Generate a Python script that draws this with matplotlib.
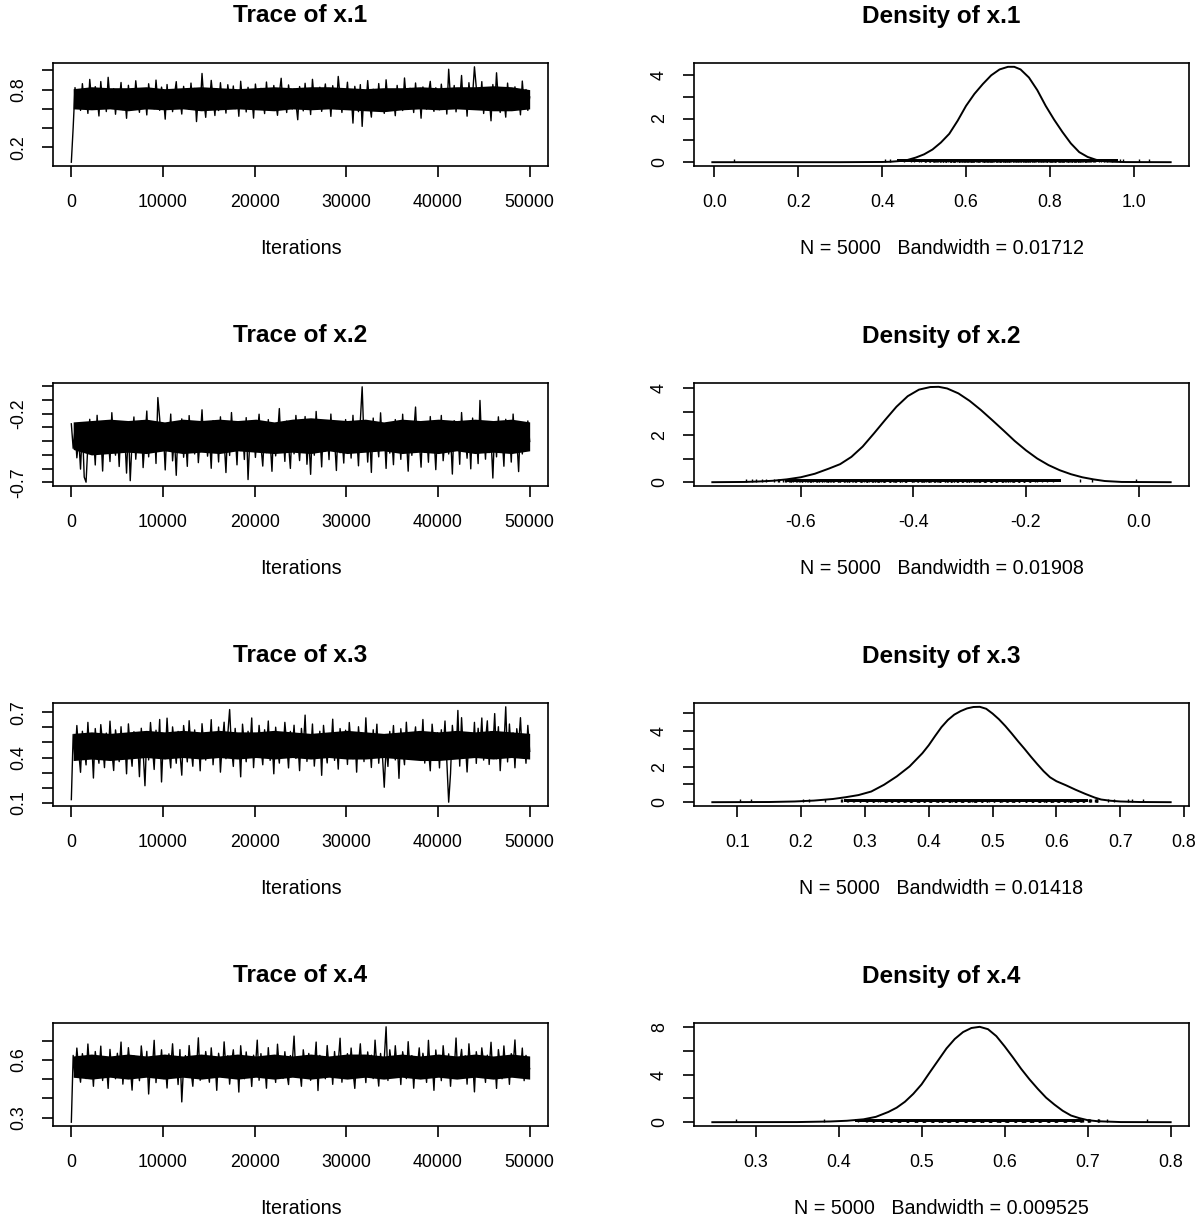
import matplotlib
matplotlib.use("Agg")
import matplotlib.pyplot as plt
import numpy as np

plt.rcParams['font.family'] = ['Liberation Sans', 'DejaVu Sans']

# ---- data -------------------------------------------------------------
names = ["x.1", "x.2", "x.3", "x.4"]
n_samples = 5000
n_iter = 50000
bandwidths = ["0.01712", "0.01908", "0.01418", "0.009525"]

# thinned chain values
x1_chain = [
    0.046, 0.407, 0.821, 0.633, 0.778, 0.584, 0.862, 0.659, 0.741, 0.553, 0.906, 0.692, 0.604, 0.831, 0.718, 0.526, 0.884, 0.651, 0.797, 0.572, 0.928, 0.703, 0.615, 0.809, 0.544,
    0.763, 0.681, 0.874, 0.592, 0.736, 0.502, 0.845, 0.658, 0.781, 0.613, 0.892, 0.707, 0.564, 0.803, 0.646, 0.752, 0.537, 0.861, 0.694, 0.773, 0.601, 0.899, 0.672, 0.585, 0.826,
    0.719, 0.493, 0.853, 0.628, 0.794, 0.571, 0.742, 0.883, 0.617, 0.705, 0.546, 0.834, 0.682, 0.757, 0.596, 0.868, 0.649, 0.812, 0.468, 0.731, 0.614, 0.968, 0.687, 0.512, 0.779,
    0.643, 0.896, 0.714, 0.531, 0.805, 0.583, 0.872, 0.662, 0.748, 0.556, 0.851, 0.697, 0.624, 0.838, 0.602, 0.771, 0.523, 0.887, 0.673, 0.792, 0.568, 0.824, 0.637, 0.745, 0.504,
    0.858, 0.691, 0.595, 0.813, 0.724, 0.551, 0.879, 0.654, 0.786, 0.609, 0.843, 0.676, 0.533, 0.762, 0.918, 0.631, 0.737, 0.562, 0.849, 0.702, 0.598, 0.807, 0.664, 0.487, 0.832,
    0.744, 0.579, 0.866, 0.642, 0.791, 0.541, 0.907, 0.684, 0.753, 0.618, 0.825, 0.574, 0.713, 0.859, 0.652, 0.768, 0.522, 0.841, 0.689, 0.603, 0.937, 0.728, 0.563, 0.801, 0.671,
    0.877, 0.612, 0.759, 0.452, 0.834, 0.698, 0.571, 0.852, 0.418, 0.783, 0.626, 0.894, 0.657, 0.514, 0.804, 0.722, 0.588, 0.863, 0.641, 0.749, 0.553, 0.902, 0.679, 0.607, 0.788,
    0.713, 0.529, 0.844, 0.661, 0.772, 0.583, 0.921, 0.695, 0.618, 0.814, 0.738, 0.562, 0.869, 0.644, 0.793, 0.503, 0.828, 0.701, 0.597, 0.764, 0.886, 0.653, 0.574, 0.819, 0.732,
    0.591, 0.857, 0.673, 0.784, 0.546, 1.012, 0.716, 0.628, 0.843, 0.569, 0.758, 0.684, 0.947, 0.612, 0.803, 0.524, 0.872, 0.659, 0.741, 1.037, 0.822, 0.693, 0.617, 0.883, 0.552,
    0.794, 0.648, 0.727, 0.476, 0.853, 0.604, 0.975, 0.682, 0.563, 0.811, 0.703, 0.514, 0.868, 0.632, 0.776, 0.591, 0.829, 0.667, 0.748, 0.538, 0.889, 0.642, 0.801, 0.584, 0.723,
]
x2_chain = [
    -0.274, -0.452, -0.313, -0.521, -0.384, -0.603, -0.292, -0.661, -0.698, -0.423, -0.241, -0.494, -0.352, -0.573, -0.212, -0.441, -0.334, -0.617, -0.283, -0.472, -0.369, -0.548, -0.193, -0.414, -0.502,
    -0.321, -0.584, -0.262, -0.463, -0.357, -0.632, -0.304, -0.687, -0.398, -0.224, -0.531, -0.343, -0.479, -0.253, -0.592, -0.386, -0.181, -0.514, -0.297, -0.441, -0.273, -0.562, -0.083, -0.236, -0.468,
    -0.332, -0.609, -0.284, -0.431, -0.203, -0.543, -0.371, -0.648, -0.289, -0.462, -0.238, -0.517, -0.353, -0.583, -0.214, -0.424, -0.312, -0.493, -0.262, -0.556, -0.378, -0.172, -0.451, -0.304, -0.509,
    -0.363, -0.597, -0.251, -0.482, -0.328, -0.551, -0.223, -0.437, -0.394, -0.628, -0.281, -0.504, -0.192, -0.413, -0.341, -0.572, -0.264, -0.468, -0.307, -0.533, -0.229, -0.679, -0.374, -0.452, -0.293,
    -0.518, -0.352, -0.204, -0.434, -0.581, -0.302, -0.483, -0.243, -0.401, -0.619, -0.272, -0.507, -0.361, -0.163, -0.458, -0.323, -0.547, -0.254, -0.421, -0.598, -0.287, -0.492, -0.213, -0.384, -0.541,
    -0.314, -0.453, -0.221, -0.568, -0.372, -0.641, -0.283, -0.502, -0.184, -0.413, -0.339, -0.587, -0.262, -0.471, -0.328, -0.534, -0.203, -0.442, -0.391, -0.613, -0.274, -0.484, -0.352, -0.559, -0.243,
    -0.431, -0.302, -0.523, -0.212, -0.464, -0.358, -0.579, -0.254, -0.005, -0.403, -0.291, -0.552, -0.334, -0.627, -0.232, -0.473, -0.381, -0.514, -0.194, -0.442, -0.323, -0.598, -0.271, -0.487, -0.352,
    -0.571, -0.243, -0.424, -0.313, -0.532, -0.204, -0.461, -0.372, -0.618, -0.282, -0.503, -0.341, -0.152, -0.443, -0.392, -0.589, -0.261, -0.482, -0.334, -0.553, -0.221, -0.432, -0.363, -0.607, -0.302,
    -0.474, -0.213, -0.542, -0.381, -0.273, -0.493, -0.352, -0.639, -0.251, -0.454, -0.322, -0.568, -0.192, -0.413, -0.361, -0.524, -0.284, -0.601, -0.232, -0.461, -0.343, -0.563, -0.104, -0.432, -0.311,
    -0.531, -0.262, -0.483, -0.372, -0.668, -0.293, -0.514, -0.223, -0.442, -0.354, -0.582, -0.241, -0.463, -0.321, -0.552, -0.203, -0.414, -0.383, -0.621, -0.272, -0.493, -0.334, -0.452, -0.253, -0.402,
]
x3_chain = [
    0.121, 0.553, 0.384, 0.612, 0.437, 0.302, 0.574, 0.468, 0.351, 0.633, 0.412, 0.521, 0.264, 0.592, 0.453, 0.362, 0.618, 0.494, 0.333, 0.562, 0.401, 0.641, 0.443, 0.314, 0.583,
    0.482, 0.373, 0.604, 0.421, 0.534, 0.292, 0.623, 0.461, 0.342, 0.571, 0.403, 0.512, 0.273, 0.594, 0.441, 0.213, 0.552, 0.384, 0.632, 0.473, 0.321, 0.581, 0.414, 0.652, 0.238,
    0.524, 0.393, 0.661, 0.452, 0.331, 0.603, 0.484, 0.362, 0.573, 0.434, 0.283, 0.612, 0.503, 0.371, 0.644, 0.462, 0.342, 0.583, 0.421, 0.541, 0.312, 0.624, 0.474, 0.383, 0.563,
    0.442, 0.651, 0.352, 0.534, 0.413, 0.602, 0.303, 0.491, 0.634, 0.392, 0.552, 0.718, 0.463, 0.341, 0.593, 0.432, 0.514, 0.272, 0.621, 0.483, 0.372, 0.574, 0.451, 0.662, 0.333,
    0.542, 0.404, 0.613, 0.471, 0.352, 0.584, 0.433, 0.642, 0.381, 0.523, 0.292, 0.601, 0.462, 0.363, 0.562, 0.424, 0.633, 0.492, 0.331, 0.573, 0.443, 0.614, 0.394, 0.512, 0.313,
    0.593, 0.452, 0.681, 0.374, 0.532, 0.421, 0.622, 0.343, 0.503, 0.402, 0.574, 0.282, 0.613, 0.471, 0.364, 0.553, 0.432, 0.654, 0.381, 0.522, 0.323, 0.592, 0.464, 0.413, 0.581,
    0.354, 0.632, 0.483, 0.392, 0.561, 0.303, 0.604, 0.451, 0.542, 0.373, 0.663, 0.422, 0.513, 0.334, 0.584, 0.443, 0.621, 0.362, 0.534, 0.414, 0.203, 0.472, 0.341, 0.573, 0.432,
    0.612, 0.384, 0.523, 0.262, 0.591, 0.463, 0.352, 0.634, 0.441, 0.553, 0.474, 0.492, 0.603, 0.393, 0.572, 0.421, 0.652, 0.363, 0.531, 0.454, 0.312, 0.621, 0.483, 0.402, 0.564,
    0.331, 0.584, 0.443, 0.642, 0.372, 0.104, 0.293, 0.613, 0.474, 0.402, 0.712, 0.343, 0.664, 0.432, 0.503, 0.304, 0.531, 0.552, 0.414, 0.633, 0.361, 0.594, 0.452, 0.662, 0.383,
    0.512, 0.643, 0.354, 0.572, 0.453, 0.691, 0.392, 0.604, 0.313, 0.541, 0.472, 0.736, 0.371, 0.622, 0.434, 0.563, 0.332, 0.591, 0.483, 0.664, 0.403, 0.532, 0.362, 0.613, 0.441,
]
x4_chain = [
    0.277, 0.623, 0.512, 0.661, 0.553, 0.484, 0.632, 0.571, 0.503, 0.682, 0.541, 0.604, 0.463, 0.643, 0.562, 0.524, 0.671, 0.493, 0.612, 0.583, 0.452, 0.654, 0.531, 0.594, 0.502,
    0.634, 0.552, 0.692, 0.474, 0.603, 0.521, 0.663, 0.564, 0.443, 0.621, 0.543, 0.584, 0.492, 0.672, 0.573, 0.514, 0.644, 0.423, 0.592, 0.553, 0.701, 0.482, 0.613, 0.534, 0.652,
    0.503, 0.582, 0.454, 0.631, 0.562, 0.683, 0.524, 0.604, 0.472, 0.653, 0.382, 0.574, 0.622, 0.513, 0.674, 0.542, 0.463, 0.612, 0.553, 0.714, 0.494, 0.591, 0.532, 0.643, 0.571,
    0.484, 0.662, 0.543, 0.603, 0.442, 0.634, 0.572, 0.511, 0.693, 0.553, 0.621, 0.474, 0.582, 0.652, 0.523, 0.614, 0.433, 0.673, 0.562, 0.502, 0.641, 0.534, 0.593, 0.462, 0.624,
    0.563, 0.702, 0.494, 0.632, 0.541, 0.584, 0.453, 0.663, 0.522, 0.613, 0.574, 0.483, 0.681, 0.552, 0.603, 0.504, 0.642, 0.533, 0.472, 0.622, 0.581, 0.723, 0.514, 0.592, 0.553,
    0.463, 0.652, 0.572, 0.521, 0.633, 0.494, 0.604, 0.562, 0.692, 0.441, 0.623, 0.543, 0.591, 0.502, 0.674, 0.554, 0.612, 0.473, 0.643, 0.532, 0.583, 0.712, 0.484, 0.601, 0.563,
    0.632, 0.514, 0.661, 0.543, 0.452, 0.613, 0.574, 0.683, 0.523, 0.594, 0.482, 0.641, 0.552, 0.624, 0.503, 0.702, 0.561, 0.464, 0.633, 0.532, 0.602, 0.771, 0.493, 0.652, 0.572,
    0.524, 0.673, 0.552, 0.613, 0.472, 0.642, 0.584, 0.503, 0.694, 0.541, 0.622, 0.453, 0.603, 0.563, 0.662, 0.514, 0.634, 0.572, 0.483, 0.701, 0.532, 0.594, 0.442, 0.651, 0.553,
    0.614, 0.492, 0.673, 0.562, 0.524, 0.631, 0.463, 0.602, 0.543, 0.713, 0.504, 0.582, 0.654, 0.533, 0.621, 0.474, 0.683, 0.552, 0.593, 0.434, 0.642, 0.571, 0.513, 0.662, 0.584,
    0.483, 0.624, 0.553, 0.691, 0.521, 0.603, 0.452, 0.653, 0.574, 0.502, 0.672, 0.544, 0.612, 0.473, 0.632, 0.563, 0.703, 0.514, 0.594, 0.532, 0.661, 0.492, 0.623, 0.581, 0.554,
]

# solid core of each trace band (every 2000 iterations), where the
# 5000 overplotted samples merge into black
x1_core_lo = [0.60, 0.59, 0.60, 0.58, 0.60, 0.59, 0.60, 0.58, 0.59, 0.60, 0.59, 0.58, 0.60, 0.59, 0.60, 0.59, 0.58, 0.57, 0.59, 0.60, 0.59, 0.60, 0.59, 0.58, 0.58, 0.60]
x1_core_hi = [0.81, 0.83, 0.82, 0.82, 0.83, 0.81, 0.82, 0.83, 0.82, 0.81, 0.82, 0.83, 0.82, 0.83, 0.83, 0.82, 0.81, 0.82, 0.82, 0.83, 0.82, 0.83, 0.83, 0.84, 0.83, 0.80]
x2_core_lo = [-0.46, -0.50, -0.49, -0.48, -0.49, -0.47, -0.49, -0.48, -0.49, -0.47, -0.48, -0.49, -0.48, -0.49, -0.47, -0.49, -0.48, -0.47, -0.49, -0.48, -0.49, -0.47, -0.49, -0.48, -0.49, -0.47]
x2_core_hi = [-0.26, -0.25, -0.24, -0.25, -0.24, -0.26, -0.24, -0.25, -0.24, -0.25, -0.24, -0.26, -0.24, -0.23, -0.24, -0.25, -0.24, -0.26, -0.24, -0.25, -0.24, -0.25, -0.24, -0.25, -0.24, -0.26]
x3_core_lo = [0.38, 0.39, 0.38, 0.39, 0.40, 0.39, 0.40, 0.39, 0.40, 0.39, 0.40, 0.39, 0.40, 0.39, 0.40, 0.39, 0.39, 0.40, 0.39, 0.38, 0.38, 0.39, 0.40, 0.39, 0.40, 0.39]
x3_core_hi = [0.56, 0.57, 0.56, 0.57, 0.58, 0.57, 0.58, 0.57, 0.58, 0.57, 0.57, 0.58, 0.57, 0.56, 0.57, 0.58, 0.57, 0.56, 0.57, 0.58, 0.57, 0.58, 0.57, 0.58, 0.57, 0.56]
x4_core_lo = [0.51, 0.50, 0.51, 0.50, 0.51, 0.50, 0.51, 0.50, 0.51, 0.50, 0.51, 0.50, 0.51, 0.50, 0.51, 0.50, 0.51, 0.50, 0.51, 0.50, 0.51, 0.50, 0.51, 0.50, 0.51, 0.50]
x4_core_hi = [0.62, 0.63, 0.62, 0.63, 0.62, 0.63, 0.62, 0.63, 0.62, 0.63, 0.62, 0.63, 0.62, 0.63, 0.62, 0.63, 0.63, 0.62, 0.63, 0.62, 0.63, 0.62, 0.63, 0.62, 0.63, 0.62]

# kernel density curves
d1_x = [-0.005, 0.30, 0.40, 0.42, 0.44, 0.46, 0.48, 0.50, 0.52, 0.54, 0.56, 0.58, 0.60, 0.62, 0.64, 0.66,
        0.68, 0.70, 0.715, 0.73, 0.75, 0.77, 0.79, 0.81, 0.83, 0.85, 0.87, 0.89, 0.91, 0.93, 0.95, 0.98, 1.088]
d1_y = [0.0, 0.0, 0.01, 0.02, 0.05, 0.10, 0.21, 0.36, 0.58, 0.90, 1.30, 1.90, 2.58, 3.13, 3.58, 3.98,
        4.25, 4.37, 4.37, 4.25, 3.88, 3.30, 2.58, 1.95, 1.38, 0.86, 0.46, 0.24, 0.11, 0.04, 0.02, 0.005, 0.0]
d2_x = [-0.757, -0.70, -0.675, -0.65, -0.625, -0.60, -0.575, -0.55, -0.53, -0.51, -0.49, -0.47, -0.45, -0.43,
        -0.41, -0.39, -0.37, -0.355, -0.34, -0.32, -0.30, -0.28, -0.26, -0.24, -0.22, -0.20, -0.18, -0.16,
        -0.14, -0.12, -0.10, -0.08, -0.06, -0.03, 0.057]
d2_y = [0.0, 0.01, 0.03, 0.06, 0.12, 0.21, 0.36, 0.58, 0.77, 1.08, 1.52, 2.08, 2.66, 3.22,
        3.67, 3.95, 4.06, 4.07, 4.00, 3.79, 3.47, 3.08, 2.65, 2.21, 1.76, 1.36, 1.01, 0.73,
        0.51, 0.34, 0.21, 0.12, 0.05, 0.01, 0.0]
d3_x = [0.061, 0.15, 0.19, 0.22, 0.25, 0.27, 0.29, 0.31, 0.33, 0.35, 0.37, 0.39, 0.40, 0.41, 0.42, 0.43,
        0.44, 0.45, 0.46, 0.47, 0.48, 0.49, 0.50, 0.51, 0.52, 0.53, 0.54, 0.55, 0.56, 0.57, 0.58, 0.59,
        0.60, 0.615, 0.63, 0.645, 0.66, 0.67, 0.685, 0.70, 0.73, 0.779]
d3_y = [0.0, 0.01, 0.04, 0.09, 0.18, 0.28, 0.40, 0.60, 0.98, 1.45, 2.01, 2.75, 3.20, 3.72, 4.22, 4.62,
        4.92, 5.12, 5.27, 5.35, 5.36, 5.25, 4.98, 4.66, 4.28, 3.86, 3.42, 3.00, 2.56, 2.14, 1.74, 1.40,
        1.18, 0.95, 0.70, 0.47, 0.26, 0.15, 0.08, 0.04, 0.01, 0.0]
d4_x = [0.248, 0.35, 0.39, 0.41, 0.43, 0.445, 0.46, 0.47, 0.48, 0.49, 0.50, 0.51, 0.52, 0.53, 0.54, 0.55,
        0.56, 0.57, 0.58, 0.59, 0.60, 0.61, 0.62, 0.63, 0.64, 0.65, 0.66, 0.67, 0.68, 0.69, 0.70, 0.712,
        0.74, 0.80]
d4_y = [0.0, 0.01, 0.06, 0.12, 0.24, 0.45, 0.86, 1.22, 1.72, 2.38, 3.18, 4.20, 5.20, 6.20, 7.00, 7.58,
        7.92, 8.02, 7.82, 7.24, 6.38, 5.45, 4.48, 3.60, 2.80, 2.06, 1.48, 0.96, 0.56, 0.34, 0.17, 0.08,
        0.01, 0.0]

# span on the density baseline where the observation ticks merge into a bar
rug_dense_lo = [0.435, -0.628, 0.267, 0.420]
rug_dense_hi = [0.962, -0.137, 0.649, 0.692]

chains = [x1_chain, x2_chain, x3_chain, x4_chain]
cores_lo = [x1_core_lo, x2_core_lo, x3_core_lo, x4_core_lo]
cores_hi = [x1_core_hi, x2_core_hi, x3_core_hi, x4_core_hi]
dens_x = [d1_x, d2_x, d3_x, d4_x]
dens_y = [d1_y, d2_y, d3_y, d4_y]

# axis ticks (R only labels the ones that do not overlap)
trace_xticks = [0, 10000, 20000, 30000, 40000, 50000]
trace_xlabels = ["0", "10000", "20000", "30000", "40000", "50000"]
trace_yticks = [
    [0.2, 0.4, 0.6, 0.8, 1.0],
    [-0.7, -0.6, -0.5, -0.4, -0.3, -0.2, -0.1, 0.0],
    [0.1, 0.2, 0.3, 0.4, 0.5, 0.6, 0.7],
    [0.3, 0.4, 0.5, 0.6, 0.7],
]
trace_ylabels = [
    ["0.2", "", "", "0.8", ""],
    ["-0.7", "", "", "", "", "-0.2", "", ""],
    ["0.1", "", "", "0.4", "", "", "0.7"],
    ["0.3", "", "", "0.6", ""],
]
dens_xticks = [
    [0.0, 0.2, 0.4, 0.6, 0.8, 1.0],
    [-0.6, -0.4, -0.2, 0.0],
    [0.1, 0.2, 0.3, 0.4, 0.5, 0.6, 0.7, 0.8],
    [0.3, 0.4, 0.5, 0.6, 0.7, 0.8],
]
dens_xlabels = [
    ["0.0", "0.2", "0.4", "0.6", "0.8", "1.0"],
    ["-0.6", "-0.4", "-0.2", "0.0"],
    ["0.1", "0.2", "0.3", "0.4", "0.5", "0.6", "0.7", "0.8"],
    ["0.3", "0.4", "0.5", "0.6", "0.7", "0.8"],
]
dens_yticks = [[0, 1, 2, 3, 4], [0, 1, 2, 3, 4], [0, 1, 2, 3, 4, 5], [0, 2, 4, 6, 8]]
dens_ylabels = [["0", "", "2", "", "4"], ["0", "", "2", "", "4"],
                ["0", "", "2", "", "4", ""], ["0", "", "4", "", "8"]]

# ---- layout (pixels of a 1200x1230 canvas) ------------------------------
W, H = 1200, 1230
TRACE_LEFT, DENS_LEFT = 53, 694
BOX_W, BOX_H = 495, 103
ROW_TOP = [63, 383, 703, 1023]
TICK_FS, LAB_FS, TITLE_FS = 12.8, 14.2, 17.6
PX = 72.0 / 100  # points per pixel

fig = plt.figure(figsize=(W / 100, H / 100), dpi=100)


def make_axes(left, top):
    return fig.add_axes([left / W, 1 - (top + BOX_H) / H, BOX_W / W, BOX_H / H])


def r_style(ax, xt, xl, yt, yl):
    ax.margins(0.04)
    ax.set_xticks(xt)
    ax.set_xticklabels(xl)
    ax.set_yticks(yt)
    ax.set_yticklabels(yl, rotation=90, va="center")
    for s in ax.spines.values():
        s.set_linewidth(1.2)
    ax.tick_params(direction="out", length=11 * PX, width=1.2, labelsize=TICK_FS)
    ax.tick_params(axis="x", pad=17 * PX)
    ax.tick_params(axis="y", pad=15 * PX)


def labels(ax, title, xlab):
    ax.annotate(title, xy=(0.5, 1), xycoords="axes fraction", xytext=(0, 47 * PX),
                textcoords="offset points", ha="center", va="center",
                fontsize=TITLE_FS, fontweight="bold")
    ax.annotate(xlab, xy=(0.5, 0), xycoords="axes fraction", xytext=(0, -83 * PX),
                textcoords="offset points", ha="center", va="center", fontsize=LAB_FS)


for i, name in enumerate(names):
    # trace: dense core plus the individual excursions
    ax = make_axes(TRACE_LEFT, ROW_TOP[i])
    chain = np.array(chains[i])
    iters = np.linspace(0, n_iter, len(chain))
    core_iters = np.linspace(iters[1], n_iter, len(cores_lo[i]))
    ax.fill_between(core_iters, cores_lo[i], cores_hi[i], color="black", lw=0)
    ax.plot(iters, chain, color="black", lw=1.0)
    r_style(ax, trace_xticks, trace_xlabels, trace_yticks[i], trace_ylabels[i])
    labels(ax, "Trace of " + name, "Iterations")

    # density with the observations drawn as short ticks on the baseline
    ax = make_axes(DENS_LEFT, ROW_TOP[i])
    ax.plot(dens_x[i], dens_y[i], color="black", lw=1.4)
    top = max(dens_y[i])
    ax.vlines(chain, 0, top * 0.035, color="black", lw=1.0)
    ax.fill_between([rug_dense_lo[i], rug_dense_hi[i]], 0, top * 0.035, color="black", lw=0)
    r_style(ax, dens_xticks[i], dens_xlabels[i], dens_yticks[i], dens_ylabels[i])
    labels(ax, "Density of " + name,
           "N = %d   Bandwidth = %s" % (n_samples, bandwidths[i]))

fig.savefig("out.png", dpi=100, facecolor="white")
